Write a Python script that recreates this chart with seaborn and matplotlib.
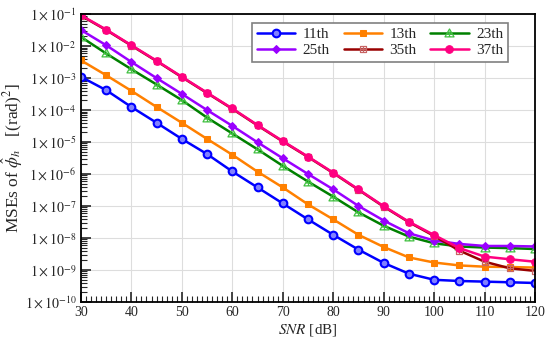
import numpy as np
import pandas as pd
import seaborn as sns
import matplotlib
matplotlib.use("Agg")
import matplotlib.pyplot as plt
from matplotlib.path import Path
from matplotlib.ticker import FuncFormatter, MultipleLocator, LogLocator, NullFormatter

# SNR grid (dB)
snr = [30, 35, 40, 45, 50, 55, 60, 65, 70, 75, 80, 85, 90, 95, 100, 105, 110, 115, 120]

# MSE values, one list per harmonic
mse_11 = [1.1e-3, 4.2e-4, 1.25e-4, 4.0e-5, 1.25e-5, 4.2e-6, 1.2e-6, 3.8e-7, 1.2e-7, 3.8e-8,
          1.25e-8, 4.3e-9, 1.65e-9, 7.6e-10, 4.9e-10, 4.5e-10, 4.3e-10, 4.1e-10, 3.9e-10]
mse_13 = [3.6e-3, 1.23e-3, 4.0e-4, 1.25e-4, 4.0e-5, 1.25e-5, 4.0e-6, 1.18e-6, 3.8e-7, 1.12e-7,
          3.8e-8, 1.25e-8, 5.2e-9, 2.45e-9, 1.7e-9, 1.38e-9, 1.26e-9, 1.23e-9, 1.18e-9]
mse_23 = [1.95e-2, 5.9e-3, 1.9e-3, 6.3e-4, 2.05e-4, 5.8e-5, 1.85e-5, 5.9e-6, 1.8e-6, 5.8e-7,
          1.95e-7, 6.3e-8, 2.4e-8, 1.1e-8, 6.8e-9, 5.4e-9, 5.0e-9, 4.8e-9, 4.5e-9]
mse_25 = [3.2e-2, 1.07e-2, 3.2e-3, 1.0e-3, 3.2e-4, 1.0e-4, 3.2e-5, 9.8e-6, 3.1e-6, 1.0e-6,
          3.3e-7, 1.0e-7, 3.5e-8, 1.4e-8, 8.3e-9, 6.5e-9, 5.6e-9, 5.6e-9, 5.4e-9]
mse_35 = [9.0e-2, 3.2e-2, 1.04e-2, 3.4e-3, 1.07e-3, 3.4e-4, 1.09e-4, 3.3e-5, 1.04e-5, 3.4e-6,
          1.07e-6, 3.2e-7, 9.5e-8, 3.1e-8, 1.15e-8, 4.0e-9, 1.8e-9, 1.12e-9, 9.3e-10]
mse_37 = [9.3e-2, 3.3e-2, 1.07e-2, 3.5e-3, 1.1e-3, 3.5e-4, 1.12e-4, 3.4e-5, 1.07e-5, 3.5e-6,
          1.1e-6, 3.3e-7, 9.8e-8, 3.2e-8, 1.23e-8, 4.8e-9, 2.6e-9, 2.15e-9, 1.8e-9]

labels = ["11th", "13th", "23th", "25th", "35th", "37th"]
series = [mse_11, mse_13, mse_23, mse_25, mse_35, mse_37]

df = pd.DataFrame({"SNR": snr * len(labels),
                   "MSE": sum(series, []),
                   "harmonic": np.repeat(labels, len(snr))})

# square with a cross inside (marker of the 35th), triangle with a cross (23th)
sq_cross = Path([(-1, -1), (1, -1), (1, 1), (-1, 1), (-1, -1),
                 (0, -1), (0, 1), (-1, 0), (1, 0)],
                [Path.MOVETO, Path.LINETO, Path.LINETO, Path.LINETO, Path.CLOSEPOLY,
                 Path.MOVETO, Path.LINETO, Path.MOVETO, Path.LINETO])
tri_cross = Path([(0, 1), (-1, -0.75), (1, -0.75), (0, 1),
                  (0, -0.75), (0, 0.45), (-0.55, -0.1), (0.55, -0.1)],
                 [Path.MOVETO, Path.LINETO, Path.LINETO, Path.CLOSEPOLY,
                  Path.MOVETO, Path.LINETO, Path.MOVETO, Path.LINETO])

styles = {
    "11th": dict(color="#0000ff", marker="o", mfc="#8080ff", mec="#0000ff", ms=5.5, mew=1.5),
    "13th": dict(color="#ff8000", marker="s", mfc="#ff8000", mec="#ff8000", ms=4.5),
    "23th": dict(color="#008000", marker=tri_cross, mfc="none", mec="#40c040", ms=6.5, mew=0.9),
    "25th": dict(color="#9900ff", marker="D", mfc="#9900ff", mec="#9900ff", ms=4.5),
    "35th": dict(color="#990000", marker=sq_cross, mfc="none", mec="#c86464", ms=4.5, mew=0.9),
    "37th": dict(color="#ff0080", marker="o", mfc="#ff0080", mec="#ff0080", ms=5.5),
}

sns.set_style("ticks")
plt.rcParams["font.family"] = ["Liberation Serif", "DejaVu Serif"]
plt.rcParams["mathtext.fontset"] = "stix"

fig = plt.figure(figsize=(5.5, 3.45), dpi=100)
ax = fig.add_axes([0.147, 0.125, 0.826, 0.834])

for lab in labels:
    sns.lineplot(data=df[df["harmonic"] == lab], x="SNR", y="MSE", ax=ax, lw=1.8,
                 label=lab, legend=False, **styles[lab])

ax.set_yscale("log")
ax.set_xlim(30, 120)
ax.set_ylim(1e-10, 1e-1)

ax.xaxis.set_major_locator(MultipleLocator(10))
ax.xaxis.set_minor_locator(MultipleLocator(1))
ax.yaxis.set_major_locator(LogLocator(base=10, numticks=20))
ax.yaxis.set_minor_locator(LogLocator(base=10, subs=np.arange(2, 10), numticks=20))
ax.yaxis.set_minor_formatter(NullFormatter())
ax.yaxis.set_major_formatter(FuncFormatter(lambda y, _: r"$1\times10^{%d}$" % round(np.log10(y))))

ax.tick_params(which="both", direction="in", top=False, right=False, labelsize=10)
ax.tick_params(which="major", length=7, width=1.2, pad=3)
ax.tick_params(which="minor", length=4, width=0.8)
ax.grid(True, which="major", color="#dddddd", lw=0.8)
for sp in ax.spines.values():
    sp.set_linewidth(1.3)
    sp.set_color("black")

ax.set_xlabel(r"$SNR$ [dB]", fontsize=11, labelpad=2)
ax.set_ylabel(r"MSEs of $\hat{\phi}_h$   [(rad)$^2$]", fontsize=12.5, labelpad=0)

# legend filled row by row: 11th 13th 23th / 25th 35th 37th
handles, names = ax.get_legend_handles_labels()
order = [0, 3, 1, 4, 2, 5]
leg = ax.legend([handles[i] for i in order], [names[i] for i in order], ncol=3,
                loc="upper right", bbox_to_anchor=(0.94, 0.97), borderaxespad=0,
                fontsize=11, fancybox=False, framealpha=1, edgecolor="#808080",
                handlelength=2.5, columnspacing=0.9, handletextpad=0.5,
                borderpad=0.3, labelspacing=0.15)
leg.get_frame().set_linewidth(1.2)

plt.savefig("out.png", dpi=100)
plt.close()
